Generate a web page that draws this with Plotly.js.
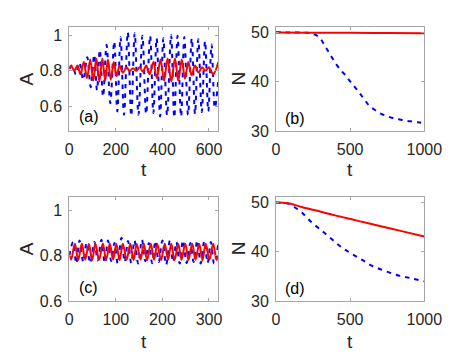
<!DOCTYPE html>
<html><head><meta charset="utf-8">
<script src="https://cdn.plot.ly/plotly-3.0.1.min.js"></script>
<style>html,body{margin:0;padding:0;background:#fff}#g{width:469px;height:359px}</style>
</head><body><div id="g"></div>
<script>
// Panel (a): A vs t (extrema)
const tA_blue = [0,13,28,43,60,77,92,107,119,131,145,160,176,193,206,220,235,251,266,281,297,314,330,347,361,375,390,404,420,437,451,465,480,494,510,526,540,554,569,583,597,611,625,640];
const A_blue_a = [0.81,0.83,0.78,0.847,0.749,0.878,0.707,0.891,0.69,0.919,0.654,0.948,0.616,0.967,0.569,0.991,0.55,1.02,0.544,1.014,0.55,1.0,0.555,1.0,0.56,0.985,0.541,0.985,0.547,1.004,0.535,1.0,0.54,0.993,0.55,0.985,0.555,0.98,0.566,0.97,0.57,0.95,0.59,0.75];
const tA_red = [0,8,21,35,48,62,76,90,103,116,129,142,154,166,178,191,203,216,230,245,259,274,288,302,316,330,345,361,376,392,407,422,438,454,468,483,497,511,525,540,555,570,585,600,618,640];
const A_red_a = [0.815,0.83,0.80,0.83,0.78,0.85,0.76,0.865,0.745,0.87,0.74,0.87,0.745,0.865,0.75,0.85,0.77,0.83,0.79,0.82,0.80,0.815,0.80,0.82,0.795,0.83,0.78,0.85,0.76,0.865,0.745,0.87,0.74,0.87,0.745,0.865,0.755,0.85,0.775,0.83,0.79,0.82,0.80,0.82,0.78,0.85];

// Panel (b): N vs t
const tB_blue = [0,100,200,240,270,297,325,353,381,409,437,465,493,521,547,573,601,629,665,701,740,780,827,874,922,971,1000];
const NB_blue = [50,49.95,49.9,49.8,49.4,48.8,47.5,46.1,44.7,43.4,42.3,41.4,40.3,39.3,38.3,37.3,36.2,35.1,34.3,33.6,33.1,32.7,32.4,32.1,31.9,31.7,31.6];
const tB_red = [0,250,500,750,1000];
const NB_red = [49.95,49.9,49.9,49.85,49.8];

// Panel (c): A vs t
const tC_blue = [0,8,15,22,30,37,45,54,61,69,76,83,90,97,104,112,119,126,133,140,148,156,163,171,178,185,192,200,208,216,223,230,237,244,252,260,267,275,282,290,297,304,311,320];
const C_blue = [0.80,0.860,0.765,0.867,0.772,0.856,0.767,0.860,0.779,0.870,0.767,0.867,0.776,0.856,0.765,0.879,0.772,0.865,0.767,0.867,0.765,0.870,0.775,0.856,0.767,0.865,0.772,0.867,0.760,0.867,0.772,0.860,0.765,0.867,0.767,0.856,0.772,0.867,0.765,0.865,0.768,0.860,0.765,0.853];
const tC_red = [0,4,12,19,27,34,42,49,56,64,72,79,87,94,101,108,115,123,131,138,145,153,160,167,175,182,189,197,205,212,219,226,234,241,249,256,264,271,279,286,293,301,309,316,320];
const C_red = [0.81,0.783,0.852,0.781,0.853,0.782,0.851,0.780,0.852,0.782,0.854,0.781,0.852,0.783,0.851,0.780,0.853,0.782,0.852,0.781,0.851,0.782,0.853,0.780,0.852,0.782,0.851,0.781,0.853,0.782,0.852,0.780,0.851,0.782,0.853,0.781,0.852,0.782,0.851,0.780,0.852,0.782,0.853,0.781,0.80];

// Panel (d): N vs t
const tD_blue = [0,50,83,128,173,240,308,375,443,510,578,645,735,825,915,1000];
const ND_blue = [50,49.95,49.8,49.0,48.0,46.0,44.3,42.6,40.9,39.6,38.4,37.2,36.1,35.2,34.6,34.0];
const tD_red = [0,50,94,173,285,398,510,622,735,847,1000];
const ND_red = [50,49.95,49.8,49.1,48.3,47.4,46.6,45.8,45.0,44.2,43.1];

const panelLabels = ['(a)','(b)','(c)','(d)'];
const yTitles = ['A','N','A','N'];
const xTitle = 't';

const BLUE = '#0000ff', RED = '#ff0000';
const blueLine = {color: BLUE, width: 2, dash: '4.5px,5px', shape: 'spline'};
const redLine = {color: RED, width: 2, shape: 'spline'};

const traces = [
  {x: tA_blue, y: A_blue_a, xaxis: 'x', yaxis: 'y', mode: 'lines', line: blueLine},
  {x: tA_red, y: A_red_a, xaxis: 'x', yaxis: 'y', mode: 'lines', line: redLine},
  {x: tB_blue, y: NB_blue, xaxis: 'x2', yaxis: 'y2', mode: 'lines', line: blueLine},
  {x: tB_red, y: NB_red, xaxis: 'x2', yaxis: 'y2', mode: 'lines', line: redLine},
  {x: tC_blue, y: C_blue, xaxis: 'x3', yaxis: 'y3', mode: 'lines', line: blueLine},
  {x: tC_red, y: C_red, xaxis: 'x3', yaxis: 'y3', mode: 'lines', line: redLine},
  {x: tD_blue, y: ND_blue, xaxis: 'x4', yaxis: 'y4', mode: 'lines', line: blueLine},
  {x: tD_red, y: ND_red, xaxis: 'x4', yaxis: 'y4', mode: 'lines', line: redLine}
];

const FONT = 'Liberation Sans, Arial, Helvetica, sans-serif';
const TXT = '#262626';
function ax(extra) {
  return Object.assign({
    showline: true, linecolor: '#a6a6a6', linewidth: 1, mirror: 'ticks',
    ticks: 'inside', ticklen: 3, tickcolor: '#a6a6a6', tickwidth: 1,
    showgrid: false, zeroline: false, fixedrange: true,
    tickfont: {family: FONT, size: 16, color: TXT}
  }, extra);
}
const W = 469, H = 359;
const dx1 = [69.3/W, 218.3/W], dx2 = [276/W, 424.3/W];
const dyT = [(H-131)/H, (H-26.7)/H], dyB = [(H-301)/H, (H-196.7)/H];

const layout = {
  width: W, height: H, margin: {l:0, r:0, t:0, b:0},
  paper_bgcolor: '#fff', plot_bgcolor: '#fff', showlegend: false,
  font: {family: FONT, color: TXT},
  xaxis: ax({domain: dx1, anchor: 'y', range: [0, 640], tickvals: [0,200,400,600], ticklabelstandoff: 4}),
  yaxis: ax({domain: dyT, anchor: 'x', range: [0.458, 1.051], tickvals: [0.6,0.8,1], ticktext: ['0.6','0.8','1'], ticklabelstandoff: 3}),
  xaxis2: ax({domain: dx2, anchor: 'y2', range: [0, 1000], tickvals: [0,500,1000], ticklabelstandoff: 4}),
  yaxis2: ax({domain: dyT, anchor: 'x2', range: [30, 51.13], tickvals: [30,40,50], ticklabelstandoff: 3}),
  xaxis3: ax({domain: dx1, anchor: 'y3', range: [0, 320], tickvals: [0,100,200,300], ticklabelstandoff: 4}),
  yaxis3: ax({domain: dyB, anchor: 'x3', range: [0.6, 1.06], tickvals: [0.6,0.8,1], ticktext: ['0.6','0.8','1'], ticklabelstandoff: 3}),
  xaxis4: ax({domain: dx2, anchor: 'y4', range: [0, 1000], tickvals: [0,500,1000], ticklabelstandoff: 4}),
  yaxis4: ax({domain: dyB, anchor: 'x4', range: [30, 51.2], tickvals: [30,40,50], ticklabelstandoff: 3}),
  annotations: []
};

const labelPos = [[77.3,116.7],[283.3,118.3],[76.5,287.7],[283.3,288.3]];
const yTitlePos = [[26.5,78.9],[238.5,78.9],[26.5,248.8],[238.5,248.8]];
const xTitlePos = [[143.8,170],[350.2,170],[143.8,341.7],[350.2,341.7]];
for (let i = 0; i < 4; i++) {
  layout.annotations.push({text: panelLabels[i], xref:'paper', yref:'paper', x: labelPos[i][0]/W, y: 1-labelPos[i][1]/H,
    xanchor:'left', yanchor:'middle', showarrow:false, font:{family: FONT, size:16, color:'#000'}});
  layout.annotations.push({text: yTitles[i], xref:'paper', yref:'paper', x: yTitlePos[i][0]/W, y: 1-yTitlePos[i][1]/H,
    xanchor:'center', yanchor:'middle', textangle:-90, showarrow:false, font:{family: FONT, size:19, color:TXT}});
  layout.annotations.push({text: xTitle, xref:'paper', yref:'paper', x: xTitlePos[i][0]/W, y: 1-xTitlePos[i][1]/H,
    xanchor:'center', yanchor:'middle', showarrow:false, font:{family: FONT, size:19, color:TXT}});
}

Plotly.newPlot('g', traces, layout, {staticPlot: true, displayModeBar: false});
</script>
</body></html>
